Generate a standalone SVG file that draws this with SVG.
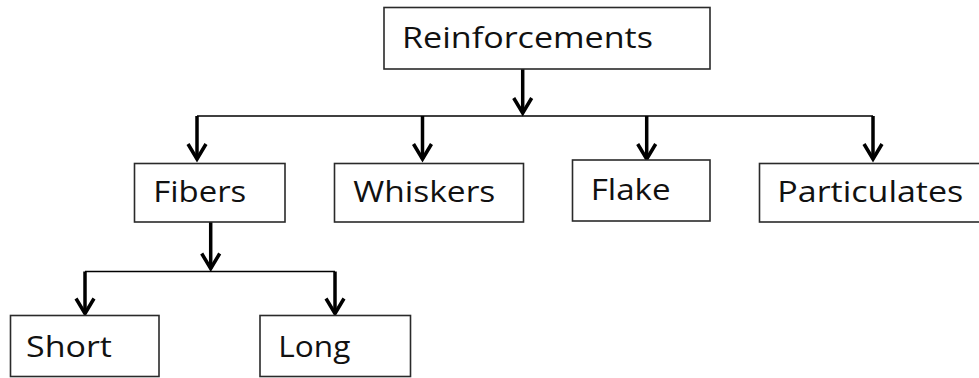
<svg xmlns="http://www.w3.org/2000/svg" width="979" height="378" viewBox="0 0 979 378">
  <defs>
    <style>
      .box { fill: #ffffff; stroke: #2a2a2a; stroke-width: 1.6; }
      .label { font-family: "Open Sans", "Liberation Sans", sans-serif; font-size: 30px; fill: #111111; }
      .trunk { fill: none; stroke: #000000; stroke-width: 1.6; }
      .drop { fill: none; stroke: #000000; stroke-width: 3.5; marker-end: url(#chevron); }
    </style>
    <!-- open V arrowhead; the miter of the vertex lands about 3px past the line end -->
    <marker id="chevron" markerUnits="userSpaceOnUse" viewBox="-20 -14 26 28" markerWidth="26" markerHeight="28" refX="0" refY="0" orient="auto" overflow="visible">
      <path d="M-15,-9 L0,0 L-15,9" fill="none" stroke="#000000" stroke-width="3.5" stroke-linejoin="miter"/>
    </marker>
  </defs>

  <rect width="979" height="378" fill="#ffffff"/>

  <g id="connectors">
    <line class="drop" x1="522.7" y1="69" x2="522.7" y2="113"/>
    <line class="trunk" x1="197" y1="116" x2="873" y2="116"/>
    <line class="drop" x1="197" y1="116" x2="197" y2="159"/>
    <line class="drop" x1="422.5" y1="116" x2="422.5" y2="159"/>
    <line class="drop" x1="646.7" y1="116" x2="646.7" y2="159"/>
    <line class="drop" x1="873" y1="116" x2="873" y2="159"/>

    <line class="drop" x1="210.7" y1="222" x2="210.7" y2="268.5"/>
    <line class="trunk" x1="85" y1="271.5" x2="335" y2="271.5"/>
    <line class="drop" x1="85" y1="271.5" x2="85" y2="313.5"/>
    <line class="drop" x1="335" y1="271.5" x2="335" y2="313.5"/>
  </g>

  <g id="node-reinforcements">
    <rect class="box" x="384" y="7.5" width="326" height="61.5"/>
    <text class="label" x="402" y="48" textLength="251" lengthAdjust="spacingAndGlyphs">Reinforcements</text>
  </g>

  <g id="node-fibers">
    <rect class="box" x="134.5" y="163.5" width="150.5" height="58.5"/>
    <text class="label" x="153.3" y="201.7" textLength="93" lengthAdjust="spacingAndGlyphs">Fibers</text>
  </g>

  <g id="node-whiskers">
    <rect class="box" x="334.5" y="163.5" width="189" height="58.5"/>
    <text class="label" x="353.3" y="201.7" textLength="142" lengthAdjust="spacingAndGlyphs">Whiskers</text>
  </g>

  <g id="node-flake">
    <rect class="box" x="572.5" y="160" width="137.5" height="61"/>
    <text class="label" x="590.7" y="200" textLength="80" lengthAdjust="spacingAndGlyphs">Flake</text>
  </g>

  <g id="node-particulates">
    <rect class="box" x="759.5" y="163.5" width="230" height="58.5"/>
    <text class="label" x="777.3" y="201.7" textLength="186" lengthAdjust="spacingAndGlyphs">Particulates</text>
  </g>

  <g id="node-short">
    <rect class="box" x="10.5" y="315.5" width="148.5" height="61"/>
    <text class="label" x="26" y="356.7" textLength="86" lengthAdjust="spacingAndGlyphs">Short</text>
  </g>

  <g id="node-long">
    <rect class="box" x="260" y="315.5" width="150.5" height="61"/>
    <text class="label" x="278.3" y="356.7" textLength="72" lengthAdjust="spacingAndGlyphs">Long</text>
  </g>
</svg>
